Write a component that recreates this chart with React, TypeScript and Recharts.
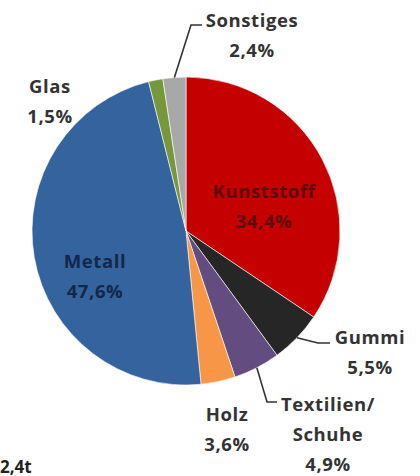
import { PieChart, Pie, Cell } from "recharts"

const names = ["Kunststoff", "Gummi", "Textilien/\nSchuhe", "Holz", "Metall", "Glas", "Sonstiges"]
const values = [34.4, 5.5, 4.9, 3.6, 47.6, 1.5, 2.4]
const colors = ["#c40000", "#262626", "#634c80", "#f79646", "#35639d", "#76983a", "#a8a8a8"]

const data = names.map((name, i) => ({ name, value: values[i] }))

// where each label sits (centre x, first line y) and optional leader-line bends
const labelLayout: Record<string, { x: number; y: number; fill: string; line?: [number, number][] }> = {
  "Kunststoff": { x: 264, y: 190, fill: "#5e0a0a" },
  "Gummi": { x: 370, y: 336, fill: "#333333", line: [[318, 343], [330, 343]] },
  "Textilien/\nSchuhe": { x: 328, y: 403, fill: "#333333", line: [[267, 402], [277, 402]] },
  "Holz": { x: 227, y: 413, fill: "#333333" },
  "Metall": { x: 95, y: 260, fill: "#13274a" },
  "Glas": { x: 50, y: 85, fill: "#333333" },
  "Sonstiges": { x: 252, y: 19, fill: "#333333", line: [[191, 25], [202, 25]] },
}

const RAD = Math.PI / 180
const fmt = (v: number) => v.toFixed(1).replace(".", ",") + "%"
const font = "'Open Sans', sans-serif"

const renderLabel = (props: any) => {
  const { cx, cy, midAngle, outerRadius, name, value } = props
  const lay = labelLayout[name]
  if (!lay) return null
  const lines = [...String(name).split("\n"), fmt(value)]
  let path = ""
  if (lay.line) {
    const sx = cx + outerRadius * Math.cos(-midAngle * RAD)
    const sy = cy + outerRadius * Math.sin(-midAngle * RAD)
    path = `M${sx},${sy}` + lay.line.map(([x, y]) => `L${x},${y}`).join("")
  }
  return (
    <g>
      {path && <path d={path} stroke="#333" strokeWidth={1.6} fill="none" />}
      {lines.map((t, i) => (
        <text
          key={i}
          x={lay.x}
          y={lay.y + i * 30}
          textAnchor="middle"
          dominantBaseline="central"
          fill={lay.fill}
          fontFamily={font}
          fontWeight="bold"
          fontSize={18.5}
          letterSpacing={0.6}
        >
          {t}
        </text>
      ))}
    </g>
  )
}

export default function App() {
  return (
    <div style={{ position: "absolute", left: 0, top: 0, width: 420, height: 476, background: "#fff" }}>
      <PieChart width={420} height={476} margin={{ top: 0, right: 0, bottom: 0, left: 0 }}>
        <Pie
          data={data}
          dataKey="value"
          nameKey="name"
          cx={186}
          cy={231}
          outerRadius={154}
          startAngle={90}
          endAngle={-270}
          stroke="#ffffff"
          strokeWidth={0.6}
          label={renderLabel}
          labelLine={false}
          isAnimationActive={false}
        >
          {data.map((d, i) => (
            <Cell key={d.name} fill={colors[i]} />
          ))}
        </Pie>
        <text x={0} y={466} fill="#222" fontFamily={font} fontWeight="bold" fontSize={17} dominantBaseline="central">
          2,4t
        </text>
      </PieChart>
    </div>
  )
}
